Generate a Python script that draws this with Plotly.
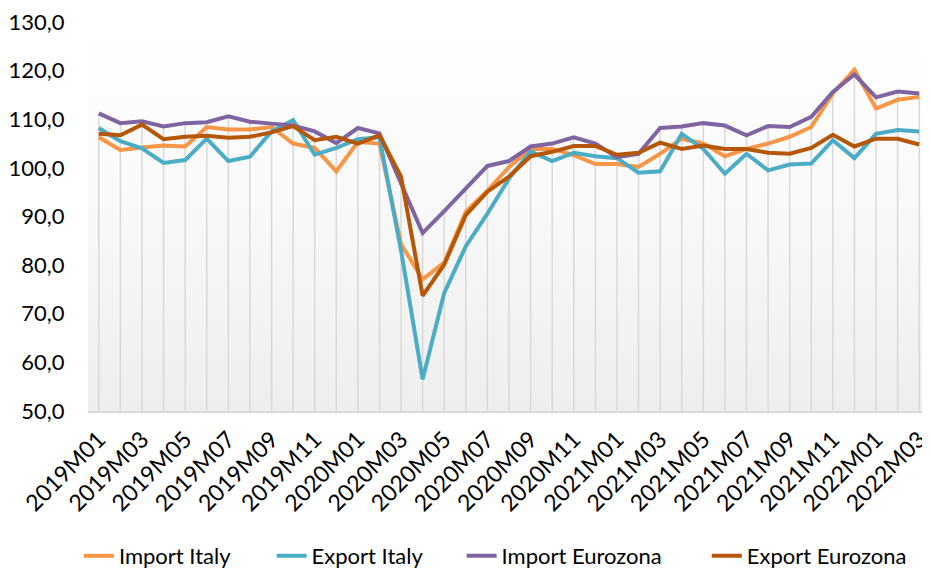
import plotly.graph_objects as go

# maanden 2019M01 .. 2022M03
months = [f"{y}M{m:02d}" for y in (2019, 2020, 2021) for m in range(1, 13)] + ["2022M01", "2022M02", "2022M03"]

import_italy = [106.3, 103.7, 104.2, 104.6, 104.4, 108.4, 107.9, 107.9, 108.4, 105.0,
                104.1, 99.3, 105.3, 105.0, 84.3, 77.1, 80.5, 91.0, 95.3, 100.2,
                103.9, 103.9, 102.6, 100.8, 100.8, 100.2, 102.9, 106.0, 105.0, 102.4,
                103.9, 105.0, 106.4, 108.4, 115.3, 120.2, 112.2, 114.0, 114.6]
export_italy = [108.2, 105.5, 104.0, 101.0, 101.6, 106.0, 101.4, 102.3, 107.5, 109.8,
                102.7, 104.1, 105.9, 106.3, 83.0, 56.5, 74.3, 83.9, 90.6, 97.8,
                103.4, 101.4, 103.1, 102.4, 102.0, 99.0, 99.3, 107.0, 103.9, 98.8,
                102.9, 99.5, 100.7, 100.9, 105.7, 102.0, 107.0, 107.8, 107.5]
import_eurozona = [111.2, 109.2, 109.6, 108.5, 109.2, 109.4, 110.6, 109.5, 109.1, 108.7,
                   107.5, 105.1, 108.2, 107.1, 96.8, 86.6, 91.1, 95.7, 100.4, 101.4,
                   104.4, 105.0, 106.3, 105.0, 102.2, 102.9, 108.2, 108.5, 109.2, 108.7,
                   106.7, 108.6, 108.4, 110.5, 115.6, 119.2, 114.5, 115.7, 115.3]
export_eurozona = [107.0, 106.7, 108.9, 105.9, 106.4, 106.6, 106.2, 106.4, 107.3, 108.6,
                   105.7, 106.4, 105.0, 106.7, 98.2, 73.7, 80.1, 90.3, 95.1, 98.2,
                   102.4, 103.3, 104.5, 104.5, 102.7, 103.1, 105.2, 103.9, 104.6, 103.9,
                   103.9, 103.1, 102.9, 104.1, 106.8, 104.4, 106.0, 106.0, 104.8]

series_names = ["Import Italy", "Export Italy", "Import Eurozona", "Export Eurozona"]
series_colors = ["#F79646", "#4BACC6", "#8064A2", "#B65708"]
y_ticks = [50, 60, 70, 80, 90, 100, 110, 120, 130]

FONT = "Lato"
Y_MIN, Y_MAX = 50, 130
# de pagina heeft 8px body-marge, dus figuur iets kleiner dan het venster
FIG_W, FIG_H = 922, 560
# linkerkant van de legenda-items (container fractie)
legend_x = [0.0769, 0.2859, 0.4920, 0.7579]

fig = go.Figure()

# achtergrond met verloop (wit boven, lichtgrijs onder) op de numerieke basis-as
fig.add_trace(
    go.Scatter(
        x=[-0.5, 38.5, 38.5, -0.5, -0.5],
        y=[Y_MIN, Y_MIN, Y_MAX, Y_MAX, Y_MIN],
        xaxis="x",
        mode="lines",
        line=dict(width=0),
        fill="toself",
        fillgradient=dict(type="vertical", colorscale=[[0, "#eeeeee"], [0.6, "#fafafa"], [1, "#ffffff"]]),
        hoverinfo="skip",
        showlegend=False,
    )
)

# droplijnen: van het hoogste punt per maand naar de as
all_series = [import_italy, export_italy, import_eurozona, export_eurozona]
drop_x, drop_y = [], []
for i, m in enumerate(months):
    drop_x += [m, m, None]
    drop_y += [Y_MIN, max(s[i] for s in all_series), None]

fig.add_trace(
    go.Scatter(
        x=drop_x,
        y=drop_y,
        xaxis="x2",
        mode="lines",
        line=dict(color="#d9d9d9", width=1.5),
        hoverinfo="skip",
        showlegend=False,
    )
)

for n, (name, values, color) in enumerate(zip(series_names, all_series, series_colors)):
    fig.add_trace(
        go.Scatter(
            x=months,
            y=values,
            xaxis="x2",
            mode="lines",
            name=name,
            line=dict(color=color, width=4),
            legend="legend" if n == 0 else f"legend{n + 1}",
        )
    )

legend_style = dict(
    orientation="h",
    xref="container",
    yref="container",
    xanchor="left",
    y=12 / FIG_H,
    yanchor="middle",
    font=dict(size=22),
    bgcolor="rgba(0,0,0,0)",
)

fig.update_layout(
    width=FIG_W,
    height=FIG_H,
    paper_bgcolor="white",
    plot_bgcolor="rgba(0,0,0,0)",
    separators=",.",
    font=dict(family=FONT, size=23, color="#000000"),
    margin=dict(l=80, r=0, t=14, b=157, autoexpand=False),
    xaxis=dict(
        range=[-0.5, len(months) - 0.5],
        visible=False,
    ),
    xaxis2=dict(
        type="category",
        overlaying="x",
        anchor="y",
        side="bottom",
        categoryorder="array",
        categoryarray=months,
        range=[-0.5, len(months) - 0.5],
        tickmode="array",
        tickvals=months[::2],
        tickangle=-45,
        showgrid=False,
        showline=True,
        linecolor="#d9d9d9",
        linewidth=1.5,
        ticks="outside",
        ticklen=4,
        tickcolor="rgba(0,0,0,0)",
        zeroline=False,
        automargin=False,
        ticklabeloverflow="allow",
    ),
    yaxis=dict(
        range=[Y_MIN, Y_MAX],
        tickvals=y_ticks,
        tickformat=".1f",
        tickfont=dict(size=22),
        showgrid=False,
        showline=False,
        zeroline=False,
        ticks="outside",
        ticklen=18,
        tickcolor="rgba(0,0,0,0)",
        automargin=False,
        ticklabeloverflow="allow",
    ),
    legend=dict(legend_style, x=legend_x[0]),
    legend2=dict(legend_style, x=legend_x[1]),
    legend3=dict(legend_style, x=legend_x[2]),
    legend4=dict(legend_style, x=legend_x[3]),
)

fig.write_html("out.html")
